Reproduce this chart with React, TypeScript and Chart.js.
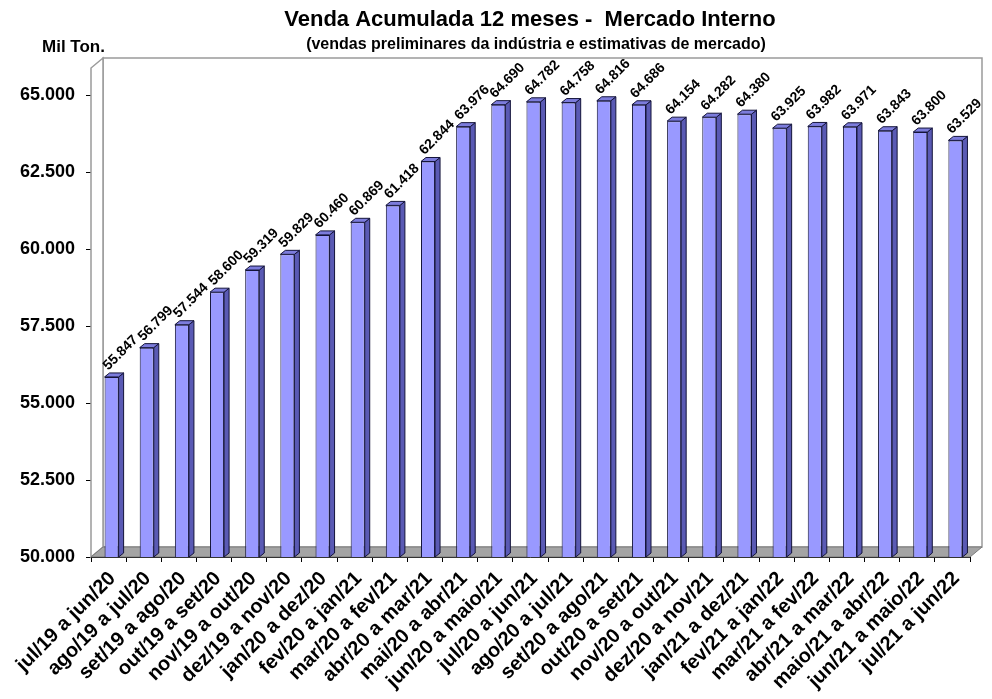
import { useEffect, useRef } from 'react';
import { Chart, registerables } from 'chart.js';

Chart.register(...registerables);

const categories = [
  'jul/19 a jun/20', 'ago/19 a jul/20', 'set/19 a ago/20', 'out/19 a set/20', 'nov/19 a out/20',
  'dez/19 a nov/20', 'jan/20 a dez/20', 'fev/20 a jan/21', 'mar/20 a fev/21', 'abr/20 a mar/21',
  'mai/20 a abr/21', 'jun/20 a maio/21', 'jul/20 a jun/21', 'ago/20 a jul/21', 'set/20 a ago/21',
  'out/20 a set/21', 'nov/20 a out/21', 'dez/20 a nov/21', 'jan/21 a dez/21', 'fev/21 a jan/22',
  'mar/21 a fev/22', 'abr/21 a mar/22', 'maio/21 a abr/22', 'jun/21 a maio/22', 'jul/21 a jun/22',
];

const salesValues = [
  55847, 56799, 57544, 58600, 59319, 59829, 60460, 60869, 61418, 62844,
  63976, 64690, 64782, 64758, 64816, 64686, 64154, 64282, 64380, 63925,
  63982, 63971, 63843, 63800, 63529,
];

const yTickValues = [50000, 52500, 55000, 57500, 60000, 62500, 65000];
const yMin = 50000;
const yMax = 65880;

const titleText = 'Venda Acumulada 12 meses -  Mercado Interno';
const subtitleText = '(vendas preliminares da indústria e estimativas de mercado)';
const unitText = 'Mil Ton.';

const FONT = '"Liberation Sans", Arial, sans-serif';

const fmt = (v: number) => Math.round(v).toString().replace(/\B(?=(\d{3})+(?!\d))/g, '.');

// pseudo-3D geometry
const DX = 12;
const DY = 10;
const BDX = 5;
const BDY = 4;
const SHIFT = 3;

function poly(ctx: CanvasRenderingContext2D, pts: number[][]) {
  ctx.beginPath();
  ctx.moveTo(pts[0][0], pts[0][1]);
  for (let i = 1; i < pts.length; i++) ctx.lineTo(pts[i][0], pts[i][1]);
  ctx.closePath();
}

const pseudo3d = {
  id: 'pseudo3d',
  beforeDatasetsDraw(chart: any) {
    const ctx: CanvasRenderingContext2D = chart.ctx;
    const { left: L, right: R, top: T, bottom: B } = chart.chartArea;
    ctx.save();
    ctx.lineWidth = 1.5;
    ctx.strokeStyle = '#9a9a9a';
    ctx.fillStyle = '#ffffff';
    ctx.beginPath();
    ctx.rect(L + DX, T - DY, R - L, B - T);
    ctx.fill();
    ctx.stroke();
    poly(ctx, [[L, B], [L, T], [L + DX, T - DY], [L + DX, B - DY]]);
    ctx.fill();
    ctx.stroke();
    poly(ctx, [[L, B], [L + DX, B - DY], [R + DX, B - DY], [R, B]]);
    ctx.fillStyle = '#a4a4a4';
    ctx.strokeStyle = '#7a7a7a';
    ctx.lineWidth = 1;
    ctx.fill();
    ctx.stroke();
    ctx.beginPath();
    ctx.moveTo(L, B + 0.5);
    ctx.lineTo(R, B + 0.5);
    ctx.strokeStyle = '#333';
    ctx.stroke();
    ctx.restore();
    ctx.save();
    ctx.translate(SHIFT, 0);
  },
  afterDatasetsDraw(chart: any) {
    const ctx: CanvasRenderingContext2D = chart.ctx;
    ctx.restore();
    const bottom = chart.chartArea.bottom;
    const meta = chart.getDatasetMeta(0);
    ctx.save();
    meta.data.forEach((bar: any) => {
      const { x, y, width } = bar.getProps(['x', 'y', 'width'], true);
      const base = bottom;
      const xl = x - width / 2 + SHIFT;
      const xr = x + width / 2 + SHIFT;
      ctx.lineWidth = 1;
      ctx.strokeStyle = '#14143a';
      poly(ctx, [[xr, y], [xr + BDX, y - BDY], [xr + BDX, base - BDY], [xr, base]]);
      ctx.fillStyle = '#5a5ab4';
      ctx.fill();
      ctx.stroke();
      poly(ctx, [[xl, y], [xl + BDX, y - BDY], [xr + BDX, y - BDY], [xr, y]]);
      ctx.fillStyle = '#7c7cdc';
      ctx.fill();
      ctx.stroke();
    });
    ctx.fillStyle = '#000';
    ctx.font = `bold 14px ${FONT}`;
    ctx.textAlign = 'center';
    ctx.textBaseline = 'middle';
    meta.data.forEach((bar: any, i: number) => {
      const { x, y } = bar.getProps(['x', 'y'], true);
      ctx.save();
      ctx.translate(x + SHIFT + 9, y - 24);
      ctx.rotate(-Math.PI / 4);
      ctx.fillText(fmt(salesValues[i]), 0, 0);
      ctx.restore();
    });
    ctx.restore();
  },
  afterDraw(chart: any) {
    const ctx: CanvasRenderingContext2D = chart.ctx;
    ctx.save();
    ctx.fillStyle = '#000';
    ctx.textBaseline = 'middle';
    ctx.textAlign = 'center';
    ctx.font = `bold 22px ${FONT}`;
    ctx.fillText(titleText, 530, 20);
    ctx.font = `bold 16px ${FONT}`;
    ctx.fillText(subtitleText, 536, 45);
    ctx.textAlign = 'left';
    ctx.font = `bold 17px ${FONT}`;
    ctx.fillText(unitText, 42, 47);
    ctx.restore();
  },
};

export default function App() {
  const ref = useRef<HTMLCanvasElement | null>(null);
  useEffect(() => {
    if (!ref.current) return;
    const chart = new Chart(ref.current, {
      type: 'bar',
      data: {
        labels: categories,
        datasets: [
          {
            data: salesValues,
            backgroundColor: '#9999ff',
            borderColor: '#14143a',
            borderWidth: 1,
            barPercentage: 0.4,
            categoryPercentage: 1,
          },
        ],
      },
      options: {
        animation: false,
        responsive: false,
        devicePixelRatio: 1,
        layout: { padding: { left: 0, right: 22, top: 68, bottom: 0 } },
        plugins: { legend: { display: false }, tooltip: { enabled: false }, title: { display: false } },
        scales: {
          x: {
            afterFit: (s: any) => { s.height = 142; },
            grid: { display: true, offset: true, drawOnChartArea: false, drawTicks: true, tickLength: 5, color: '#000' },
            border: { display: false },
            ticks: {
              autoSkip: false,
              maxRotation: 45,
              minRotation: 45,
              labelOffset: 4,
              padding: 5,
              color: '#000',
              font: { family: FONT, size: 20, weight: 'bold' },
            },
          },
          y: {
            min: yMin,
            max: yMax,
            afterFit: (s: any) => { s.width = 91; },
            afterBuildTicks: (s: any) => { s.ticks = yTickValues.map((v) => ({ value: v })); },
            grid: { display: true, drawOnChartArea: false, drawTicks: true, tickLength: 5, color: '#000' },
            border: { display: false },
            ticks: {
              padding: 11,
              color: '#000',
              font: { family: FONT, size: 18, weight: 'bold' },
              callback: (v: any) => fmt(Number(v)),
            },
          },
        },
      },
      plugins: [pseudo3d],
    } as any);
    return () => chart.destroy();
  }, []);
  return (
    <div style={{ position: 'fixed', left: 0, top: 0, width: 992, height: 699, background: '#fff' }}>
      <canvas ref={ref} width={992} height={699} style={{ display: 'block' }} />
    </div>
  );
}
